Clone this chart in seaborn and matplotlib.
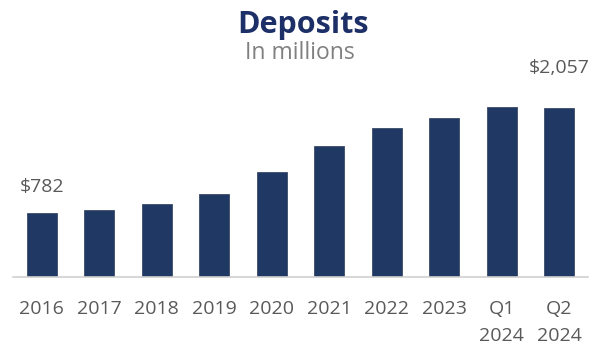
import matplotlib
matplotlib.use("Agg")
import matplotlib.pyplot as plt
import seaborn as sns
import pandas as pd

# Deposit balances by period, in millions of dollars
periods = ["2016", "2017", "2018", "2019", "2020", "2021", "2022", "2023", "Q1\n2024", "Q2\n2024"]
deposits = [782, 810, 884, 1006, 1274, 1592, 1811, 1933, 2075, 2057]

# Bars that carry a value label
labelled = {0: "$782", 9: "$2,057"}

sns.set_theme(style="white")
plt.rcParams["font.family"] = ["Open Sans", "DejaVu Sans"]

navy = "#1f3864"
grey_text = "#595959"

df = pd.DataFrame({"period": periods, "deposits": deposits})

fig = plt.figure(figsize=(5.94, 3.48), dpi=100)
ax = fig.add_axes([0.022, 0.205, 0.968, 0.623])

sns.barplot(data=df, x="period", y="deposits", color=navy, width=0.52,
            edgecolor="#3b4a66", linewidth=0.6, saturation=1, ax=ax)

ax.set_xlim(-0.5, 9.5)
ax.set_ylim(0, 2644)
ax.set_xlabel("")
ax.set_ylabel("")
ax.set_yticks([])
for side in ("top", "right", "left"):
    ax.spines[side].set_visible(False)
ax.spines["bottom"].set_color("#d0d0d0")
ax.spines["bottom"].set_linewidth(1.2)
ax.set_xticks(range(len(periods)), labels=periods, linespacing=1.65)
ax.tick_params(axis="x", length=0, pad=17, labelsize=14, colors=grey_text)

offsets = {0: 26, 9: 40}
for i, text in labelled.items():
    ax.annotate(text, xy=(i, deposits[i]), xytext=(0, offsets[i] * 0.72),
                textcoords="offset points", ha="center", va="center",
                fontsize=14, color=grey_text)

fig.text(0.51, 0.905, "Deposits", ha="center", va="baseline",
         fontsize=22, fontweight="bold", color="#1c2f66")
fig.text(0.505, 0.83, "In millions", ha="center", va="baseline",
         fontsize=16.5, color="#808080")

fig.savefig("out.png", dpi=100)
